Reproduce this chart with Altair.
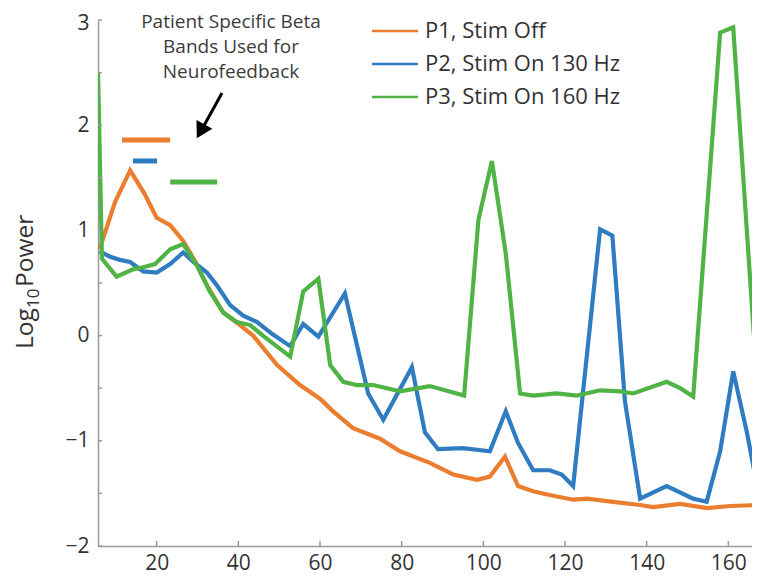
import altair as alt
import pandas as pd

# ---------------- data ----------------
series_names = ["P1, Stim Off", "P2, Stim On 130 Hz", "P3, Stim On 160 Hz"]
series_colors = ["#EB7D2E", "#2F7DC0", "#4FB346"]

p1_freq = [6.0, 9.8, 13.5, 17.0, 20.0, 23.3, 26.5, 29.5, 32.3, 36.3, 40.4, 43.6, 49.5, 55.1,
           60.0, 63.2, 68.1, 74.7, 79.6, 86.9, 92.6, 98.5, 101.6, 105.3, 108.5, 112.2, 115.6,
           122.0, 125.4, 131.8, 138.4, 141.6, 148.2, 154.8, 160.4, 167.8]
p1_pow = [0.82, 1.27, 1.57, 1.35, 1.12, 1.05, 0.90, 0.70, 0.48, 0.22, 0.10, 0.0, -0.28, -0.47,
          -0.60, -0.72, -0.88, -0.98, -1.10, -1.21, -1.32, -1.37, -1.34, -1.15, -1.43, -1.48, -1.51,
          -1.56, -1.55, -1.58, -1.61, -1.63, -1.60, -1.64, -1.62, -1.61]

p2_freq = [6.0, 8.6, 11.0, 13.5, 16.7, 20.0, 23.3, 26.5, 29.0, 32.3, 34.7, 38.0, 41.2, 44.5,
           48.5, 52.7, 55.9, 59.6, 66.1, 71.8, 75.5, 82.5, 85.7, 88.9, 95.0, 101.6, 105.5, 108.5,
           112.2, 116.3, 119.2, 122.0, 128.6, 131.6, 134.7, 138.4, 144.9, 151.4, 154.7, 158.0,
           161.2, 164.5, 167.8]
p2_pow = [0.80, 0.75, 0.72, 0.70, 0.61, 0.60, 0.68, 0.79, 0.70, 0.60, 0.48, 0.29, 0.19, 0.13,
          0.01, -0.10, 0.11, -0.01, 0.40, -0.55, -0.80, -0.30, -0.92, -1.08, -1.07, -1.10, -0.72,
          -1.02, -1.28, -1.28, -1.32, -1.43, 1.01, 0.95, -0.63, -1.55, -1.43, -1.55, -1.58, -1.10,
          -0.34, -0.91, -1.58]

p3_freq = [5.63, 6.6, 10.2, 14.2, 16.7, 19.6, 23.3, 26.5, 29.8, 33.0, 36.3, 39.6, 42.9, 46.0,
           52.7, 55.9, 59.6, 62.5, 65.7, 69.0, 73.0, 79.6, 86.9, 95.3, 98.8, 102.1, 105.5, 109.0,
           112.2, 118.0, 122.9, 128.6, 133.5, 136.7, 144.9, 148.2, 151.4, 158.0, 161.2, 167.3]
p3_pow = [2.50, 0.73, 0.56, 0.63, 0.65, 0.68, 0.82, 0.87, 0.67, 0.42, 0.22, 0.13, 0.10, 0.00,
          -0.20, 0.42, 0.54, -0.28, -0.44, -0.47, -0.47, -0.53, -0.48, -0.57, 1.10, 1.66, 0.78,
          -0.55, -0.57, -0.55, -0.57, -0.52, -0.53, -0.55, -0.44, -0.50, -0.58, 2.88, 2.93, -0.60]

# patient specific beta bands (Hz) and the level they are drawn at
band_series = series_names
band_lo = [11.5, 14.2, 23.3]
band_hi = [23.3, 20.1, 34.8]
band_level = [1.86, 1.66, 1.46]

x_ticks = [20, 40, 60, 80, 100, 120, 140, 160]
y_ticks = [-2, -1, 0, 1, 2, 3]
y_minor = [-2, -1.5, -1, -0.5, 0, 0.5, 1, 1.5, 2, 2.5, 3]

anno_lines = ["Patient Specific Beta", "Bands Used for", "Neurofeedback"]

# ---------------- build tables ----------------
rows = []
for name, fr, pw in zip(series_names, [p1_freq, p2_freq, p3_freq], [p1_pow, p2_pow, p3_pow]):
    for i, (f, p) in enumerate(zip(fr, pw)):
        rows.append({"series": name, "freq": f, "power": p, "order": i})
df = pd.DataFrame(rows)
bands = pd.DataFrame({"series": band_series, "lo": band_lo, "hi": band_hi, "level": band_level})

FONT = "Open Sans"
AXC = "#9a9a9a"
W, H = 654, 526
TOP = 12
D = 20 - (TOP + 8)  # shift so annotations keep their page position

xscale = alt.Scale(domain=[5.63, 165.8], nice=False, zero=False)
yscale = alt.Scale(domain=[-2, 3], nice=False, zero=False)
xaxis = alt.Axis(values=x_ticks, title=None, grid=False, tickSize=0, labelPadding=6,
                 labelFontSize=21, labelFont=FONT, labelColor="#333333",
                 domainColor=AXC, domainWidth=1.5, format="d")
yaxis = alt.Axis(values=y_ticks, title=None, grid=False, tickSize=0, labelPadding=9,
                 labelFontSize=21, labelFont=FONT, labelColor="#333333",
                 labelOffset=alt.ExprRef(expr="datum.value == 3 ? 3 : 0"),
                 domainColor=AXC, domainWidth=1.5, format="d")
color = alt.Color("series:N", scale=alt.Scale(domain=series_names, range=series_colors),
                  legend=None)

lines = alt.Chart(df).mark_line(strokeWidth=4.2, clip=True).encode(
    x=alt.X("freq:Q", scale=xscale, axis=xaxis),
    y=alt.Y("power:Q", scale=yscale, axis=yaxis),
    color=color,
    order="order:Q",
)

band_rules = alt.Chart(bands).mark_rule(strokeWidth=5).encode(
    x=alt.X("lo:Q", scale=xscale, axis=xaxis),
    x2="hi:Q",
    y=alt.Y("level:Q", scale=yscale, axis=yaxis),
    color=color,
)

xt = alt.Chart(pd.DataFrame({"t": x_ticks})).mark_rule(color=AXC, strokeWidth=1.5).encode(
    x=alt.X("t:Q", scale=xscale, axis=xaxis), y=alt.value(H), y2=alt.value(H - 5))
yt = alt.Chart(pd.DataFrame({"t": y_minor})).mark_rule(color=AXC, strokeWidth=1.5).encode(
    y=alt.Y("t:Q", scale=yscale, axis=yaxis), x=alt.value(0), x2=alt.value(4))

one = pd.DataFrame({"k": [0]})
layers = [lines, band_rules, xt, yt]

# annotation text
for i, txt in enumerate(anno_lines):
    layers.append(alt.Chart(one).mark_text(text=txt, font=FONT, fontSize=19, color="#3c3c3c",
                                           align="center", baseline="middle").encode(
        x=alt.value(133), y=alt.value(D + 2 + 25 * i)))

# arrow
layers.append(alt.Chart(one).mark_rule(color="black", strokeWidth=3).encode(
    x=alt.value(124), y=alt.value(D + 73), x2=alt.value(103), y2=alt.value(D + 111)))
layers.append(alt.Chart(one).mark_point(shape="triangle-down", filled=True, color="black",
                                        size=330, angle=29, opacity=1).encode(
    x=alt.value(102.6), y=alt.value(D + 111.3)))

# legend
for i, (name, col) in enumerate(zip(series_names, series_colors)):
    ly = D + 11 + 33 * i
    layers.append(alt.Chart(one).mark_rule(color=col, strokeWidth=2.5).encode(
        x=alt.value(274), x2=alt.value(320), y=alt.value(ly)))
    layers.append(alt.Chart(one).mark_text(text=name, font=FONT, fontSize=22, color="#333333",
                                           align="left", baseline="middle").encode(
        x=alt.value(327), y=alt.value(ly)))

# y-axis title: Log_10 Power
layers.append(alt.Chart(one).mark_text(text="Log", font=FONT, fontSize=24.5, color="#333333",
                                       align="left", baseline="alphabetic", angle=270).encode(
    x=alt.value(-65), y=alt.value(D + 329)))
layers.append(alt.Chart(one).mark_text(text="10", font=FONT, fontSize=17, color="#333333",
                                       align="left", baseline="alphabetic", angle=270).encode(
    x=alt.value(-59), y=alt.value(D + 288)))
layers.append(alt.Chart(one).mark_text(text="Power", font=FONT, fontSize=24.5, color="#333333",
                                       align="left", baseline="alphabetic", angle=270).encode(
    x=alt.value(-65), y=alt.value(D + 267)))

chart = alt.layer(*layers).properties(
    width=W, height=H,
    autosize=alt.AutoSizeParams(type="none"),
    padding={"left": 90, "top": TOP, "right": 0, "bottom": 567 - TOP - H},
    background="white",
).configure_view(stroke=None)

chart.save("out.html", embed_options={"renderer": "svg", "actions": False})
